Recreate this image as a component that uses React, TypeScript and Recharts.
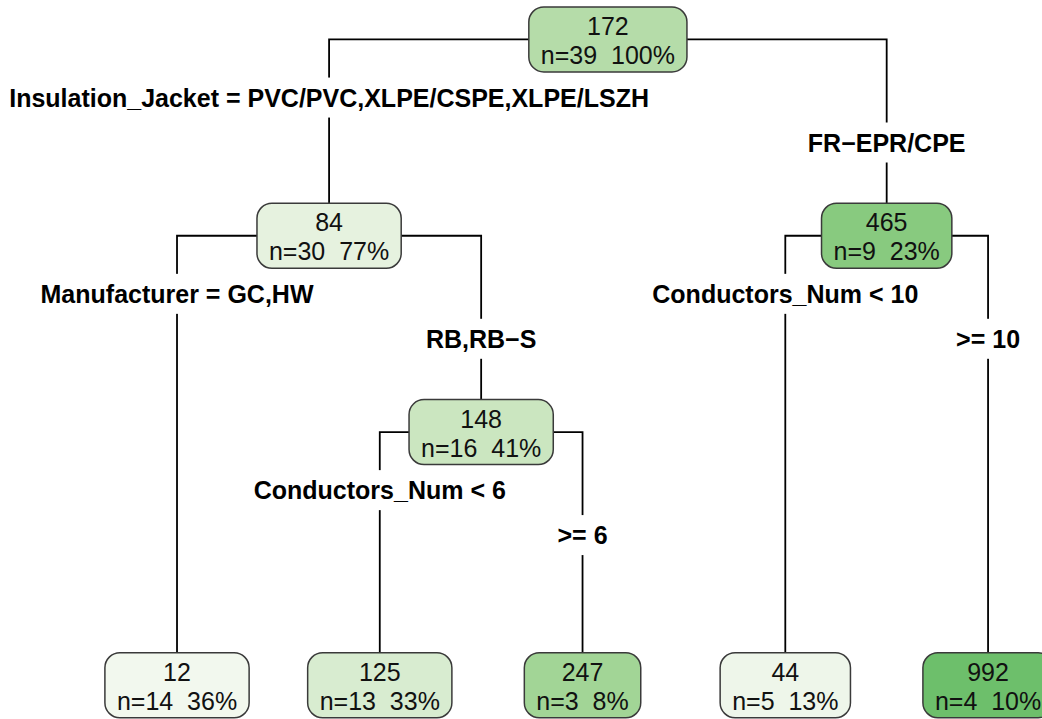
import React from 'react';
import { ScatterChart, Scatter, XAxis, YAxis } from 'recharts';

// tree nodes in preorder, parent index (-1 = root)
const nodeParent = [-1, 0, 1, 1, 3, 3, 0, 6, 6];
const nodeValue = [172, 84, 12, 148, 125, 247, 465, 44, 992];
const nodeCount = [39, 30, 14, 16, 13, 3, 9, 5, 4];
const nodePercent = [100, 77, 36, 41, 33, 8, 23, 13, 10];

// split labels of the internal nodes: left branch / right branch
const splitNodes = [0, 1, 3, 6];
const splitLeft = [
  'Insulation_Jacket = PVC/PVC,XLPE/CSPE,XLPE/LSZH',
  'Manufacturer = GC,HW',
  'Conductors_Num < 6',
  'Conductors_Num < 10',
];
const splitRight = ['FR−EPR/CPE', 'RB,RB−S', '>= 6', '>= 10'];

const nodeFills = [
  '#b5dca9', '#e6f2df', '#f2f8ee', '#cbe6c0', '#d8ecd0',
  '#a2d596', '#88ca7f', '#eef6ea', '#6dbf6b',
];

const W = 1042;
const H = 719;
const FONT = '"Liberation Sans", Arial, sans-serif';
const FS = 25;
const LEAF_DEPTH = 3.29;
const LEFT_DROP = 0.296;
const RIGHT_DROP = 0.525;

// layout: leaves spread evenly, parents centered over children
const children = nodeParent.map((_, i) =>
  nodeParent.map((p, j) => (p === i ? j : -1)).filter(j => j >= 0)
);
const depth = nodeParent.map((_, i) => {
  let d = 0;
  let p = nodeParent[i];
  while (p >= 0) {
    d++;
    p = nodeParent[p];
  }
  return d;
});
const xs: number[] = [];
let leafCount = 0;
const place = (i: number) => {
  if (children[i].length === 0) {
    xs[i] = leafCount++;
    return;
  }
  children[i].forEach(place);
  xs[i] = children[i].reduce((s, c) => s + xs[c], 0) / children[i].length;
};
place(0);
const ys = nodeParent.map((_, i) => (children[i].length ? depth[i] : LEAF_DEPTH));

const nodes = nodeValue.map((v, i) => ({
  x: xs[i],
  y: ys[i],
  value: v,
  n: nodeCount[i],
  pct: nodePercent[i],
  fill: nodeFills[i],
}));

const edges = nodeParent
  .map((p, i) => ({ p, i }))
  .filter(e => e.p >= 0)
  .map(({ p, i }) => [
    { x: xs[p], y: ys[p] },
    { x: xs[i], y: ys[p] },
    { x: xs[i], y: ys[i] },
  ]);

const labels = splitNodes.flatMap((s, k) => {
  const [l, r] = children[s];
  return [
    { x: xs[l], y: ys[s] + LEFT_DROP, text: splitLeft[k] },
    { x: xs[r], y: ys[s] + RIGHT_DROP, text: splitRight[k] },
  ];
});

const regularWidth = (s: string) =>
  s.split('').reduce((w, ch) => {
    if (ch === ' ') return w + 0.278;
    if (ch === '%') return w + 0.889;
    if (ch === '=') return w + 0.584;
    return w + 0.556;
  }, 0) * FS;

const NodeBox = (props: any) => {
  const { cx, cy, payload } = props;
  const line2 = `n=${payload.n}  ${payload.pct}%`;
  const w = regularWidth(line2) + 24;
  const h = 65;
  return (
    <g>
      <rect
        x={cx - w / 2}
        y={cy - h / 2}
        width={w}
        height={h}
        rx={15}
        ry={15}
        fill={payload.fill}
        stroke="#3a3a3a"
        strokeWidth={1.5}
      />
      <text x={cx} y={cy - 4.5} textAnchor="middle" fontSize={FS} fontFamily={FONT} fill="#111">
        {payload.value}
      </text>
      <text
        x={cx}
        y={cy + 24.5}
        textAnchor="middle"
        fontSize={FS}
        fontFamily={FONT}
        fill="#111"
        style={{ whiteSpace: 'pre' }}
      >
        {line2}
      </text>
    </g>
  );
};

const SplitLabel = (props: any) => {
  const { cx, cy, payload } = props;
  const w = payload.text.length * FS * 0.6 + 8;
  return (
    <g>
      <rect x={cx - w / 2} y={cy - 20} width={w} height={40} fill="#fff" />
      <text
        x={cx}
        y={cy + 9}
        textAnchor="middle"
        fontSize={FS}
        fontWeight="bold"
        fontFamily={FONT}
        fill="#000"
      >
        {payload.text}
      </text>
    </g>
  );
};

const NoDot = () => <g />;

export default function App() {
  return (
    <div style={{ position: 'absolute', left: 0, top: 0, background: '#fff' }}>
      <ScatterChart width={W} height={H} margin={{ top: 0, right: 0, bottom: 0, left: 0 }}>
        <XAxis type="number" dataKey="x" domain={[-0.873, 4.266]} allowDataOverflow hide />
        <YAxis type="number" dataKey="y" domain={[-0.201, 3.462]} allowDataOverflow reversed hide />
        {edges.map((seg, k) => (
          <Scatter
            key={`edge-${k}`}
            data={seg}
            line={{ stroke: '#000', strokeWidth: 1.8 }}
            lineType="joint"
            shape={NoDot}
            isAnimationActive={false}
          />
        ))}
        <Scatter data={labels} shape={SplitLabel} isAnimationActive={false} />
        <Scatter data={nodes} shape={NodeBox} isAnimationActive={false} />
      </ScatterChart>
    </div>
  );
}
